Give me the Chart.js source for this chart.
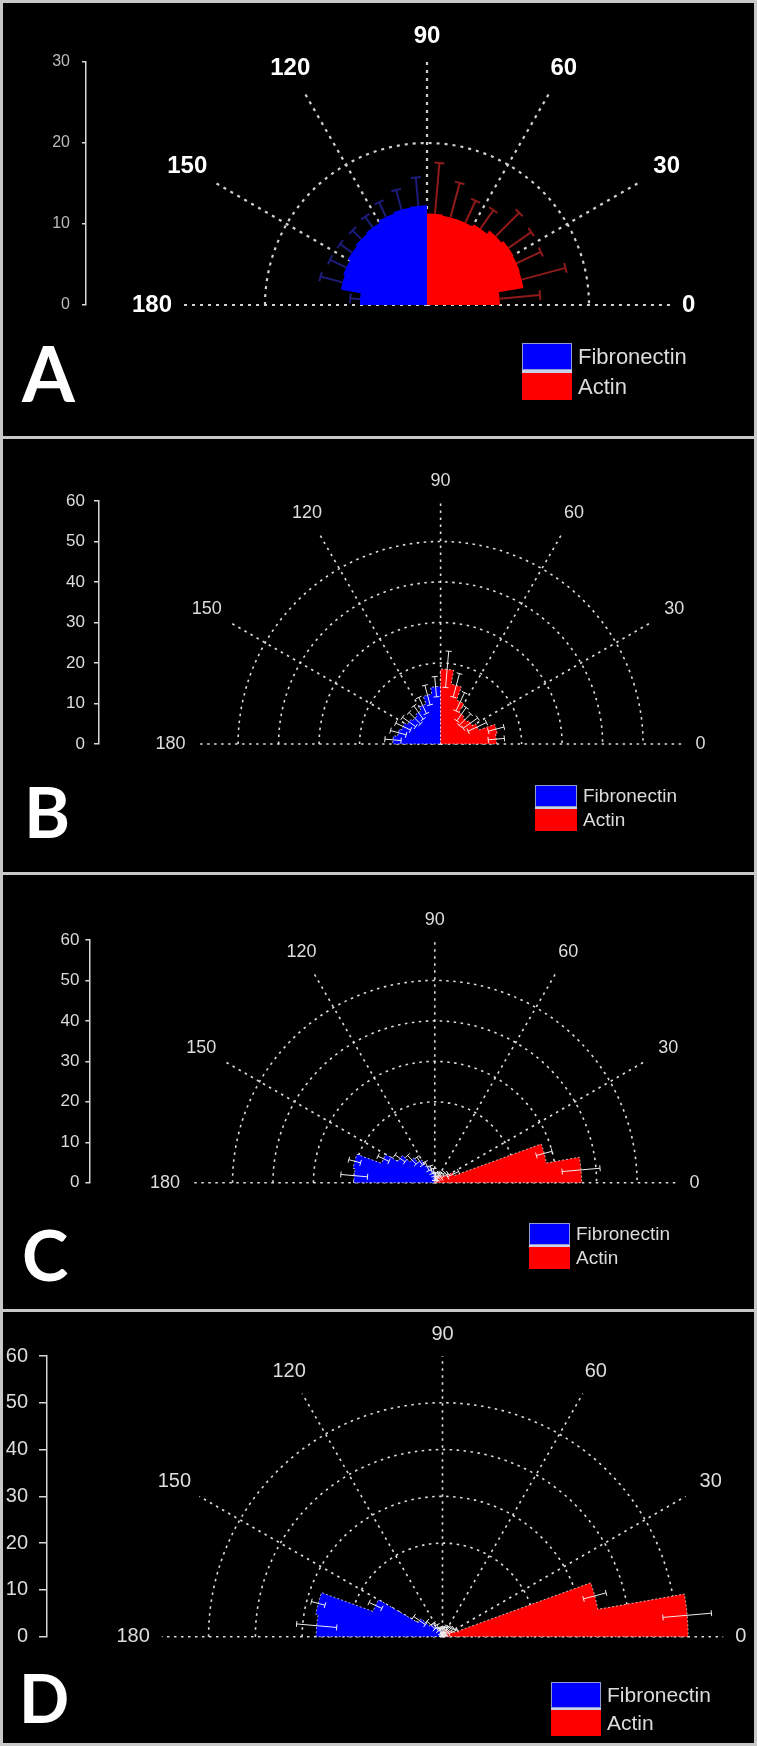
<!DOCTYPE html>
<html>
<head>
<meta charset="utf-8">
<script src="https://cdn.jsdelivr.net/npm/chart.js@4.4.0/dist/chart.umd.min.js"></script>
<style>
    body { margin: 0; background: #000; }
    #fig { position: relative; width: 757px; height: 1746px; background: #000; overflow: hidden; }
    #fig canvas { position: absolute; left: 0; }
    .frame { position: absolute; left: 0; top: 0; width: 757px; height: 1746px; box-sizing: border-box; border: 3px solid #c8c8c8; pointer-events: none; }
    .sep { position: absolute; left: 0; width: 757px; height: 3px; background: #c8c8c8; }
</style>
</head>
<body>
<div id="fig">
    <canvas id="panelA" width="757" height="437" style="top:0px"></canvas>
    <canvas id="panelB" width="757" height="437" style="top:437px"></canvas>
    <canvas id="panelC" width="757" height="437" style="top:874px"></canvas>
    <canvas id="panelD" width="757" height="435" style="top:1311px"></canvas>
    <div class="sep" style="top:436px"></div>
    <div class="sep" style="top:872px"></div>
    <div class="sep" style="top:1309px"></div>
    <div class="frame"></div>
</div>
<script>
// bins are 10 degrees wide, Actin covers 0-90, Fibronectin 90-180
const binWidth = 10;
const angleTicks = [0, 30, 60, 90, 120, 150, 180];
const seriesNames = ['Fibronectin', 'Actin'];
const radialMax = [30, 60, 60, 60];
const gridCircles = [[20], [20, 30, 40, 50], [20, 30, 40, 50], [20, 30, 40, 50]];

// panel A
const fibronectinA = [12.3, 12.2, 12.0, 11.7, 11.5, 11.3, 11.0, 10.8, 8.3];
const fibronectinErrA = [3.5, 2.5, 2.0, 1.6, 1.5, 1.8, 2.2, 2.8, 1.2];
const actinA = [9.0, 12.1, 12.2, 12.3, 12.0, 11.5, 11.2, 11.2, 11.3];
const actinErrA = [5.0, 5.6, 3.3, 3.4, 4.1, 2.8, 3.0, 4.4, 6.3];

// panel B
const fibronectinB = [14.2, 12.5, 10.5, 9.5, 9.0, 9.5, 10.2, 10.8, 11.8];
const fibronectinErrB = [2.5, 2.5, 2.2, 2.0, 2.0, 2.0, 2.0, 2.0, 2.0];
const actinB = [13.8, 14.2, 10.0, 9.0, 8.5, 9.0, 11.5, 15.0, 18.5];
const actinErrB = [2.0, 2.0, 2.5, 2.2, 2.0, 2.0, 2.5, 3.0, 4.5];

// panel C
const fibronectinC = [2.5, 3.3, 4.5, 6.5, 8.0, 10.5, 14.0, 20.5, 20.0];
const fibronectinErrC = [1.0, 1.0, 1.2, 1.2, 1.5, 1.5, 1.5, 1.5, 3.3];
const actinC = [36.3, 28.0, 5.0, 3.0, 2.5, 2.0, 1.8, 1.5, 1.5];
const actinErrC = [4.7, 2.0, 1.5, 1.0, 1.0, 1.0, 1.0, 1.0, 1.0];

// panel D
const fibronectinD = [1.0, 1.3, 1.8, 2.5, 3.5, 6.0, 15.8, 27.5, 27.0];
const fibronectinErrD = [0.8, 0.8, 1.0, 1.0, 1.2, 1.5, 1.5, 1.5, 4.3];
const actinD = [52.5, 33.7, 2.5, 2.0, 1.8, 1.5, 1.5, 1.2, 1.0];
const actinErrD = [5.2, 2.5, 1.0, 1.0, 1.0, 1.0, 1.0, 1.0, 1.0];

Chart.defaults.font.family = '"Liberation Sans", Arial, sans-serif';

const rad = d => d * Math.PI / 180;

function geom(chart) {
    const xs = chart.scales.x, ys = chart.scales.y;
    const cx = xs.getPixelForValue(0), cy = ys.getPixelForValue(0);
    return {
        cx: cx, cy: cy, max: ys.max,
        ppu: cy - ys.getPixelForValue(1),
        pt: (r, a) => [xs.getPixelForValue(r * Math.cos(rad(a))), ys.getPixelForValue(r * Math.sin(rad(a)))]
    };
}

function wedgePath(ctx, g, ds) {
    ctx.beginPath();
    ctx.moveTo(g.cx, g.cy);
    ds.values.forEach((v, i) => {
        const a1 = ds.startAngle + i * binWidth, a2 = a1 + binWidth;
        ctx.arc(g.cx, g.cy, v * g.ppu, -rad(a1), -rad(a2), true);
    });
    ctx.closePath();
}

function errorBars(ctx, g, ds, P) {
    ctx.strokeStyle = P.errColor || ds.errColor;
    ctx.lineWidth = P.errWidth;
    ds.values.forEach((v, i) => {
        const a = ds.startAngle + (i + 0.5) * binWidth;
        const hi = v + ds.errors[i];
        const lo = P.errorsOnTop ? Math.max(v - ds.errors[i], 0) : v;
        const p1 = g.pt(lo, a), p2 = g.pt(hi, a);
        const dx = Math.sin(rad(a)) * P.cap, dy = Math.cos(rad(a)) * P.cap;
        ctx.beginPath();
        ctx.moveTo(p1[0], p1[1]);
        ctx.lineTo(p2[0], p2[1]);
        ctx.moveTo(p2[0] - dx, p2[1] - dy);
        ctx.lineTo(p2[0] + dx, p2[1] + dy);
        if (P.errorsOnTop) {
            ctx.moveTo(p1[0] - dx, p1[1] - dy);
            ctx.lineTo(p1[0] + dx, p1[1] + dy);
        }
        ctx.stroke();
    });
}

function rosePlugin(P) {
    return {
        id: 'rose' + P.letter,
        beforeDatasetsDraw(chart) {
            const ctx = chart.ctx;
            const g = geom(chart);
            const sets = chart.data.datasets;
            ctx.save();
            ctx.setLineDash(P.gridDash);
            ctx.strokeStyle = P.gridColor;
            ctx.lineWidth = P.gridWidth;
            P.circles.forEach(v => {
                ctx.beginPath();
                ctx.arc(g.cx, g.cy, v * g.ppu, Math.PI, 2 * Math.PI);
                ctx.stroke();
            });
            angleTicks.forEach(a => {
                const p = g.pt(g.max, a);
                ctx.beginPath();
                ctx.moveTo(g.cx, g.cy);
                ctx.lineTo(p[0], p[1]);
                ctx.stroke();
            });
            ctx.setLineDash([]);

            if (!P.errorsOnTop) sets.forEach(ds => errorBars(ctx, g, ds, P));
            sets.forEach(ds => {
                wedgePath(ctx, g, ds);
                ctx.fillStyle = ds.backgroundColor;
                ctx.fill();
                if (P.outline) {
                    ctx.setLineDash([2, 2]);
                    ctx.strokeStyle = 'rgba(255,255,255,0.7)';
                    ctx.lineWidth = 1;
                    ctx.stroke();
                    ctx.setLineDash([]);
                }
            });
            if (P.errorsOnTop) sets.forEach(ds => errorBars(ctx, g, ds, P));
            ctx.restore();
        },
        afterDraw(chart) {
            const ctx = chart.ctx;
            const g = geom(chart);
            ctx.save();

            // angle labels
            ctx.font = P.labelFont;
            ctx.fillStyle = P.labelColor;
            ctx.textBaseline = 'middle';
            angleTicks.forEach(a => {
                let r;
                if (a === 0 || a === 180) {
                    r = g.max + P.labelEnd / g.ppu;
                    ctx.textAlign = a === 0 ? 'left' : 'right';
                } else {
                    r = g.max + (P.labelBase + P.labelExtra * Math.abs(Math.cos(rad(a)))) / g.ppu;
                    ctx.textAlign = 'center';
                }
                const p = g.pt(r, a);
                ctx.fillText(String(a), p[0], p[1]);
            });

            // legend
            const L = P.legend;
            chart.data.datasets.forEach((ds, i) => {
                const y = L.y + i * (L.h + L.gap);
                ctx.fillStyle = ds.backgroundColor;
                ctx.fillRect(L.x, y, L.w, L.h);
                ctx.fillStyle = '#dcdcdc';
                ctx.font = L.size + 'px "Liberation Sans"';
                ctx.textAlign = 'left';
                ctx.textBaseline = 'middle';
                ctx.fillText(ds.label, L.x + L.w + 6, y + L.h / 2 + 1);
            });
            ctx.fillStyle = '#c9d3e8';
            ctx.fillRect(L.x, L.y + L.h, L.w, L.gap);
            ctx.strokeStyle = '#8f9bd6';
            ctx.lineWidth = 1;
            ctx.strokeRect(L.x + 0.5, L.y + 0.5, L.w - 1, L.h - 1);

            // panel letter
            ctx.fillStyle = '#fff';
            ctx.font = 'bold ' + P.letterSize + 'px Lato, "Open Sans", sans-serif';
            ctx.textAlign = 'left';
            ctx.textBaseline = 'alphabetic';
            ctx.fillText(P.letter, P.letterX, P.letterY);
            ctx.restore();
        }
    };
}

function drawPanel(P, fib, fibErr, act, actErr) {
    const canvas = document.getElementById(P.id);
    const W = canvas.width, H = canvas.height;
    const ppu = (P.zero - P.top) / P.max;
    const tips = (vals, start) => vals.map((v, i) => {
        const a = rad(start + (i + 0.5) * binWidth);
        return { x: v * Math.cos(a), y: v * Math.sin(a) };
    });

    new Chart(canvas.getContext('2d'), {
        type: 'scatter',
        data: {
            datasets: [{
                label: seriesNames[0],
                values: fib, errors: fibErr, startAngle: 90,
                backgroundColor: '#0000ff', errColor: '#1c1c7a',
                data: tips(fib, 90), pointRadius: 0
            }, {
                label: seriesNames[1],
                values: act, errors: actErr, startAngle: 0,
                backgroundColor: '#ff0000', errColor: '#8e1a1a',
                data: tips(act, 0), pointRadius: 0
            }]
        },
        options: {
            responsive: false,
            animation: false,
            devicePixelRatio: 1,
            events: [],
            layout: { padding: { top: P.top, bottom: H - P.zero, left: 0, right: 0 } },
            plugins: { legend: { display: false }, tooltip: { enabled: false } },
            scales: {
                x: {
                    type: 'linear', display: false,
                    min: (P.axisX - P.centerX) / ppu,
                    max: (W - P.centerX) / ppu
                },
                y: {
                    type: 'linear', min: 0, max: P.max,
                    afterFit: scale => { scale.width = P.axisX; },
                    ticks: { stepSize: 10, color: P.tickColor, font: { size: P.tickSize }, padding: P.tickPad },
                    grid: { drawOnChartArea: false, color: '#d8d8d8', lineWidth: 1.5, tickLength: P.tickLen },
                    border: { color: '#d8d8d8', width: 1.5 }
                }
            }
        },
        plugins: [rosePlugin(P)]
    });
}

drawPanel({
    id: 'panelA', letter: 'A', max: radialMax[0], circles: gridCircles[0],
    top: 62, zero: 305, axisX: 86, centerX: 427,
    tickColor: '#bbbbbb', tickSize: 16, tickPad: 12, tickLen: 4,
    gridDash: [3, 5], gridColor: '#d0d0d0', gridWidth: 2.2,
    errorsOnTop: false, errWidth: 2, cap: 5, outline: false,
    labelFont: 'bold 24px "Liberation Sans"', labelColor: '#ffffff', labelBase: 26, labelExtra: 9, labelEnd: 12,
    legend: { x: 522, y: 343, w: 50, h: 27, gap: 3, size: 22 },
    letterSize: 76, letterX: 22, letterY: 402
}, fibronectinA, fibronectinErrA, actinA, actinErrA);

drawPanel({
    id: 'panelB', letter: 'B', max: radialMax[1], circles: gridCircles[1],
    top: 64, zero: 307, axisX: 99, centerX: 440.6,
    tickColor: '#dddddd', tickSize: 17, tickPad: 9, tickLen: 5,
    gridDash: [2.5, 4.5], gridColor: '#dddddd', gridWidth: 1.6,
    errorsOnTop: true, errColor: '#eeeeee', errWidth: 1, cap: 3, outline: true,
    labelFont: '18px "Liberation Sans"', labelColor: '#dddddd', labelBase: 20, labelExtra: 8, labelEnd: 12,
    legend: { x: 535, y: 348, w: 42, h: 22, gap: 2, size: 19 },
    letterSize: 70, letterX: 24, letterY: 401
}, fibronectinB, fibronectinErrB, actinB, actinErrB);

drawPanel({
    id: 'panelC', letter: 'C', max: radialMax[2], circles: gridCircles[2],
    top: 66, zero: 308.7, axisX: 89.4, centerX: 434.8,
    tickColor: '#dddddd', tickSize: 17, tickPad: 6, tickLen: 4,
    gridDash: [2.5, 4.5], gridColor: '#dddddd', gridWidth: 1.6,
    errorsOnTop: true, errColor: '#eeeeee', errWidth: 1, cap: 3, outline: true,
    labelFont: '18px "Liberation Sans"', labelColor: '#dddddd', labelBase: 20, labelExtra: 8, labelEnd: 12,
    legend: { x: 529, y: 349, w: 41, h: 22, gap: 2, size: 19 },
    letterSize: 70, letterX: 22, letterY: 407
}, fibronectinC, fibronectinErrC, actinC, actinErrC);

drawPanel({
    id: 'panelD', letter: 'D', max: radialMax[3], circles: gridCircles[3],
    top: 45, zero: 325.7, axisX: 47, centerX: 442.5,
    tickColor: '#dddddd', tickSize: 20, tickPad: 11, tickLen: 8,
    gridDash: [2.5, 4.5], gridColor: '#dddddd', gridWidth: 1.6,
    errorsOnTop: true, errColor: '#eeeeee', errWidth: 1, cap: 3, outline: true,
    labelFont: '20px "Liberation Sans"', labelColor: '#dddddd', labelBase: 22, labelExtra: 8, labelEnd: 12,
    legend: { x: 551, y: 371, w: 50, h: 26, gap: 2, size: 21 },
    letterSize: 66, letterX: 19, letterY: 412
}, fibronectinD, fibronectinErrD, actinD, actinErrD);
</script>
</body>
</html>
